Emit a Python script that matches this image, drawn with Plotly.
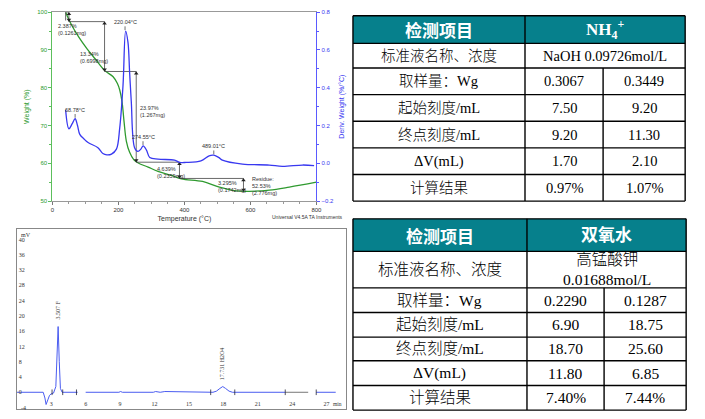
import plotly.graph_objects as go

W, H = 705, 419

# ---------------- TGA data ----------------
tga_temp = [40, 47, 58, 80, 105, 130, 158, 184, 197, 204, 211, 217, 224, 234, 247, 260, 290, 320,
            361, 391, 455, 506, 557, 597, 658, 718, 800]
tga_weight = [100, 98.6, 96.6, 93.4, 90.3, 87.6, 84.6, 82.9, 81.1, 79.4, 76.3, 71.1, 65.9, 62.9,
              60.9, 60.1, 59.0, 57.9, 56.8, 55.9, 55.2, 53.7, 52.7, 52.6, 52.9, 53.7, 55.0]

dtg_temp = [40, 50, 60, 68.8, 76, 83, 95, 108, 138, 153, 165, 179, 194, 204, 214, 222, 229, 234, 239,
            249, 259, 268, 275, 285, 295, 320, 370, 386, 405, 450, 475, 489, 505, 515, 576, 657, 697,
            758, 793]
dtg_deriv = [0.283, 0.183, 0.21, 0.236, 0.2, 0.153, 0.13, 0.110, 0.083, 0.052, 0.045, 0.049, 0.075,
             0.188, 0.414, 0.700, 0.64, 0.48, 0.327, 0.083, 0.063, 0.075, 0.092, 0.07, 0.031, 0.022,
             0.017, 0.005, 0.005, 0.013, 0.04, 0.043, 0.03, 0.017, -0.004, -0.009, -0.016, -0.009,
             -0.012]

# step analysis markers
step_levels = [100, 97.5, 84.3, 60.3, 56.0, 52.5]
step_temps = [50, 158, 254, 385, 579]
step_texts = ["2.387%<br>(0.1261mg)", "13.34%<br>(0.6998mg)", "23.97%<br>(1.267mg)",
              "4.639%<br>(0.2359mg)", "3.295%<br>(0.1742mg)"]
step_text_T = [12, 76, 258, 312, 495]
step_text_W = [95.3, 88.1, 73.6, 57.7, 53.9]
residue_text = "Residue:<br>52.53%<br>(2.776mg)"

peak_T = [68.78, 220.04, 274.55, 489.01]
peak_D = [0.236, 0.700, 0.092, 0.043]
peak_labels = ["68.78°C", "220.04°C", "274.55°C", "489.01°C"]

# ---------------- chromatogram data ----------------
chrom_t = [0, 2.3, 2.45, 2.55, 2.7, 2.85, 3.0, 3.2, 3.4, 3.5, 3.6, 3.7, 3.8, 3.95, 5.3, None,
           6.0, 8.9, 9.05, 9.2, 11.9, 12.1, 12.5, 12.9, 17.1, 17.4, 17.7, 17.95, 18.2, 18.5, 18.8,
           23.4, None, 26.1, 27.8]
chrom_mv = [0, 0, -1.5, -3.2, -2.0, -0.8, -0.4, -0.2, 1.5, 10.0, 17.2, 8.0, 1.0, 0, 0, None,
            0, 0, 0.2, 0, 0, 0.2, 0, 0.2, 0, 0.3, 1.0, 1.5, 1.0, 0.3, 0, 0, None, 0, 0]
grey_t = [23.4, 25.4]
grey_mv = [0, 0]
mark_t = [3.07, 4.0, 5.2, 16.9, 19.0, 23.4, 26.1]
chrom_peaks_t = [3.59, 17.96]
chrom_peaks_mv = [17.2, 1.5]
chrom_peak_labels = ["3.507 F", "17.731 H2O4"]
chrom_xticks = [3, 6, 9, 12, 15, 18, 21, 24, 27]
chrom_yticks = [0, 4, 8, 12, 16, 20, 24, 28, 32, 36, 40]
chrom_ymin_label = -4

# ---------------- tables data ----------------
row_labels = ["标准液名称、浓度", "取样量：Wg", "起始刻度/mL", "终点刻度/mL", "ΔV(mL)", "计算结果"]
t1_header = ["检测项目", "NH<sub>4</sub><sup>+</sup>"]
t1_std = "NaOH 0.09726mol/L"
t1_col1 = ["0.3067", "7.50", "9.20", "1.70", "0.97%"]
t1_col2 = ["0.3449", "9.20", "11.30", "2.10", "1.07%"]
t2_header = ["检测项目", "双氧水"]
t2_std = "高锰酸钾<br>0.01688mol/L"
t2_col1 = ["0.2290", "6.90", "18.70", "11.80", "7.40%"]
t2_col2 = ["0.1287", "18.75", "25.60", "6.85", "7.44%"]

# ---------------- styles ----------------
GREEN = "#2f9a2f"
GREEN_AX = "#5cbf5c"
BLUE = "#3838f0"
BLUE_AX = "#5a5aff"
TEAL = "#06808c"
SERIF_CJK = "Liberation Serif, Noto Sans CJK SC"


def px(x):
    return x / W


def py(y):
    return 1 - y / H


fig = go.Figure()

# TGA weight
fig.add_trace(go.Scatter(x=tga_temp, y=tga_weight, mode="lines", line=dict(color=GREEN, width=1.3,
                         shape="spline"), xaxis="x", yaxis="y", showlegend=False, hoverinfo="skip"))
# step lines
sx, sy = [], []
sx += [40, step_temps[0], None]
sy += [step_levels[0], step_levels[0], None]
for i, T in enumerate(step_temps):
    sx += [T, T, None]
    sy += [step_levels[i], step_levels[i + 1], None]
    if i + 1 < len(step_temps):
        sx += [T, step_temps[i + 1], None]
        sy += [step_levels[i + 1], step_levels[i + 1], None]
sx += [40, 40, None]
sy += [step_levels[0], step_levels[1] + 0.3, None]
fig.add_trace(go.Scatter(x=sx, y=sy, mode="lines", line=dict(color="#444", width=0.8),
                         xaxis="x", yaxis="y", showlegend=False, hoverinfo="skip"))
ax_up = [(T, step_levels[i] - 0.5) for i, T in enumerate(step_temps)]
ax_dn = [(T, step_levels[i + 1] + 0.5) for i, T in enumerate(step_temps)]
fig.add_trace(go.Scatter(x=[a[0] for a in ax_up], y=[a[1] for a in ax_up], mode="markers",
                         marker=dict(symbol="triangle-up", size=4, color="#222"),
                         xaxis="x", yaxis="y", showlegend=False, hoverinfo="skip"))
fig.add_trace(go.Scatter(x=[a[0] for a in ax_dn], y=[a[1] for a in ax_dn], mode="markers",
                         marker=dict(symbol="triangle-down", size=4, color="#222"),
                         xaxis="x", yaxis="y", showlegend=False, hoverinfo="skip"))

# DTG
fig.add_trace(go.Scatter(x=dtg_temp, y=dtg_deriv, mode="lines", line=dict(color=BLUE, width=1.3,
                         shape="spline"), xaxis="x", yaxis="y2", showlegend=False, hoverinfo="skip"))
tx, ty = [], []
for T, D in zip(peak_T, peak_D):
    tx += [T, T, None]
    ty += [D + 0.005, D + 0.025, None]
fig.add_trace(go.Scatter(x=tx, y=ty, mode="lines", line=dict(color="#333", width=0.7),
                         xaxis="x", yaxis="y2", showlegend=False, hoverinfo="skip"))

annots = []
small = dict(size=5.5, color="#333", family="Arial")
for t, T, Wt in zip(step_texts, step_text_T, step_text_W):
    annots.append(dict(x=T, y=Wt, xref="x", yref="y", text=t, showarrow=False, xanchor="left",
                       yanchor="middle", align="left", font=small))
annots.append(dict(x=600, y=54.0, xref="x", yref="y", text=residue_text, showarrow=False,
                   xanchor="left", yanchor="middle", align="left", font=small))
for T, D, lab in zip(peak_T, peak_D, peak_labels):
    annots.append(dict(x=T, y=D + 0.02, xref="x", yref="y2", text=lab, showarrow=False,
                       xanchor="center", yanchor="bottom", font=small))
annots.append(dict(x=px(347), y=py(217), xref="paper", yref="paper",
                   text="Universal V4.5A TA Instruments", showarrow=False, xanchor="right",
                   yanchor="middle", font=dict(size=5, color="#333", family="Arial")))

# chromatogram
fig.add_trace(go.Scatter(x=chrom_t, y=chrom_mv, mode="lines", line=dict(color="#4a5cf0", width=1),
                         xaxis="x2", yaxis="y3", showlegend=False, hoverinfo="skip"))
fig.add_trace(go.Scatter(x=grey_t, y=grey_mv, mode="lines", line=dict(color="#777", width=1),
                         xaxis="x2", yaxis="y3", showlegend=False, hoverinfo="skip"))
fig.add_trace(go.Scatter(x=mark_t, y=[0] * len(mark_t), mode="markers",
                         marker=dict(symbol="line-ns", size=4, line=dict(color="#223", width=0.8)),
                         xaxis="x2", yaxis="y3", showlegend=False, hoverinfo="skip"))
for t, v, lab in zip(chrom_peaks_t, chrom_peaks_mv, chrom_peak_labels):
    annots.append(dict(x=t, y=v + 1.2, xref="x2", yref="y3", text=lab, showarrow=False,
                       textangle=-90, xanchor="center", yanchor="bottom",
                       font=dict(size=6, color="#333", family="Liberation Serif")))
annots.append(dict(x=px(17), y=py(235), xref="paper", yref="paper", text="mV", showarrow=False,
                   xanchor="left", yanchor="middle",
                   font=dict(size=6, color="#333", family="Liberation Serif")))
annots.append(dict(x=0.15, y=chrom_ymin_label, xref="x2", yref="y3", text=str(chrom_ymin_label),
                   showarrow=False, xanchor="left", yanchor="middle",
                   font=dict(size=6, color="#333", family="Liberation Serif")))
annots.append(dict(x=px(339), y=py(407), xref="paper", yref="paper", text="min", showarrow=False,
                   xanchor="center", yanchor="middle",
                   font=dict(size=5.5, color="#333", family="Liberation Serif")))

# ---------------- tables ----------------
shapes = []


def draw_table(xe, ye, header, std, c1, c2, body_size):
    shapes.append(dict(type="rect", xref="paper", yref="paper", x0=px(xe[0]), x1=px(xe[3]),
                       y0=py(ye[0]), y1=py(ye[1]), fillcolor=TEAL, line=dict(width=0), layer="below"))
    lw = 1.4
    for y in ye:
        shapes.append(dict(type="line", xref="paper", yref="paper", x0=px(xe[0]), x1=px(xe[3]),
                           y0=py(y), y1=py(y), line=dict(color="black", width=lw)))
    for x in (xe[0], xe[1], xe[3]):
        shapes.append(dict(type="line", xref="paper", yref="paper", x0=px(x), x1=px(x),
                           y0=py(ye[0]), y1=py(ye[-1]), line=dict(color="black", width=lw)))
    shapes.append(dict(type="line", xref="paper", yref="paper", x0=px(xe[2]), x1=px(xe[2]),
                       y0=py(ye[2]), y1=py(ye[-1]), line=dict(color="black", width=lw)))

    def cell(xa, xb, ya, yb, text, font):
        annots.append(dict(x=px((xa + xb) / 2), y=py((ya + yb) / 2), xref="paper", yref="paper",
                           text=text, showarrow=False, xanchor="center", yanchor="middle",
                           font=font))

    hfont_cjk = dict(size=17, color="white", family="Noto Sans CJK SC", weight="bold")
    hfont_lat = dict(size=17, color="white", family="Liberation Serif, Noto Sans CJK SC",
                     weight="bold")
    cell(xe[0], xe[1], ye[0], ye[1], header[0], hfont_cjk)
    cell(xe[1], xe[3], ye[0], ye[1], header[1], hfont_lat)
    bfont = dict(size=body_size, color="black", family=SERIF_CJK, weight=300)
    for i, lab in enumerate(row_labels):
        cell(xe[0], xe[1], ye[i + 1], ye[i + 2], lab, bfont)
    cell(xe[1], xe[3], ye[1], ye[2], std, bfont)
    for i in range(len(c1)):
        cell(xe[1], xe[2], ye[i + 2], ye[i + 3], c1[i], bfont)
        cell(xe[2], xe[3], ye[i + 2], ye[i + 3], c2[i], bfont)


draw_table([355, 529, 608, 691], [13, 41, 66, 93, 120, 147, 174, 201],
           t1_header, t1_std, t1_col1, t1_col2, 14.5)
draw_table([355, 531, 609, 692], [219, 252, 289, 314, 339, 363, 388, 413],
           t2_header, t2_std, t2_col1, t2_col2, 15.5)

fig.update_layout(
    width=W, height=H, margin=dict(l=0, r=0, t=0, b=0),
    paper_bgcolor="white", plot_bgcolor="white", showlegend=False,
    xaxis=dict(domain=[px(51), px(318)], range=[0, 800], anchor="y",
               tickvals=[0, 200, 400, 600, 800], showgrid=False, zeroline=False,
               showline=True, linecolor="#999", linewidth=1, mirror=True,
               ticks="outside", ticklen=3, tickcolor="#777",
               minor=dict(dtick=50, ticks="outside", ticklen=2, tickcolor="#999"),
               tickfont=dict(size=6, color="#333", family="Arial"),
               title=dict(text="Temperature (°C)", font=dict(size=7, color="#333", family="Arial"),
                          standoff=3)),
    yaxis=dict(domain=[py(201), py(9.3)], range=[50, 100], anchor="x", dtick=10,
               showgrid=False, zeroline=False, showline=True, linecolor=GREEN_AX, linewidth=1,
               ticks="outside", ticklen=3, tickcolor=GREEN_AX,
               minor=dict(dtick=5, ticks="outside", ticklen=2, tickcolor=GREEN_AX),
               tickfont=dict(size=6, color=GREEN, family="Arial"),
               title=dict(text="Weight (%)", font=dict(size=7, color=GREEN, family="Arial"),
                          standoff=6)),
    yaxis2=dict(range=[-0.2, 0.8], overlaying="y", side="right", anchor="x", dtick=0.2,
                tickformat=".1f", showgrid=False, zeroline=False, showline=True,
                linecolor=BLUE_AX, linewidth=1, ticks="outside", ticklen=3, tickcolor=BLUE_AX,
                minor=dict(dtick=0.1, ticks="outside", ticklen=2, tickcolor=BLUE_AX),
                tickfont=dict(size=6, color=BLUE, family="Arial"),
                title=dict(text="Deriv. Weight (%/°C)", font=dict(size=7, color=BLUE,
                           family="Arial"), standoff=6)),
    xaxis2=dict(domain=[px(15), px(348)], range=[0, 28.7], anchor="y3",
                tickvals=chrom_xticks, ticktext=[str(v) for v in chrom_xticks],
                ticklabelposition="inside", ticklabeloverflow="allow",
                showgrid=False, zeroline=False, showline=True,
                linecolor="#888", linewidth=1, mirror=True, ticks="",
                tickfont=dict(size=6, color="#333", family="Liberation Serif")),
    yaxis3=dict(domain=[py(412), py(229)], range=[-4.4, 42.8], anchor="x2",
                tickvals=chrom_yticks, ticklabelposition="inside", ticklabeloverflow="allow",
                showgrid=False, zeroline=False, showline=True, linecolor="#888", linewidth=1,
                mirror=True, ticks="", tickfont=dict(size=6, color="#333", family="Liberation Serif")),
    annotations=annots,
    shapes=shapes,
)

fig.write_html("out.html")
